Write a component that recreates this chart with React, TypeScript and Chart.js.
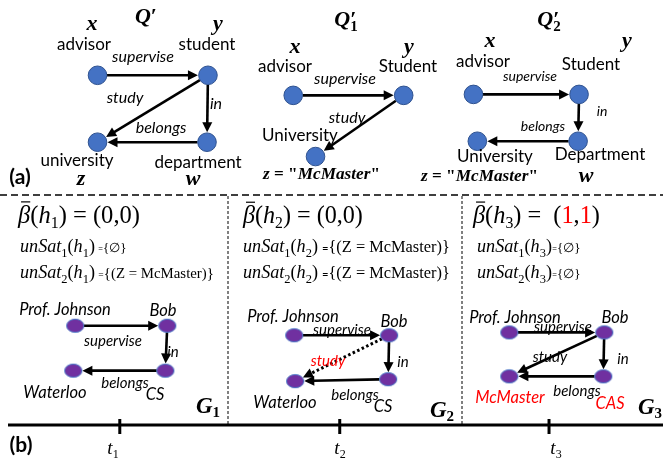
import { useEffect, useRef } from "react";
import { Chart, registerables } from "chart.js";
Chart.register(...registerables);

const W = 663;
const H = 466;
const SANS = "Lato, 'Open Sans', sans-serif";
const SERIF = "'Liberation Serif', 'DejaVu Serif', serif";

// ---------- Query patterns (blue nodes) ----------
const qpNames = ["advisor", "student", "university", "department"];
const qpX = [90, 204, 90, 203];
const qpY = [68, 68, 138, 138];
const qpFrom = [0, 1, 1, 3];
const qpTo = [1, 3, 2, 2];
const qpEdges = ["supervise", "in", "study", "belongs"];

const q1Names = ["advisor", "Student", "University"];
const q1X = [292, 406, 315];
const q1Y = [89, 89, 153];
const q1From = [0, 1];
const q1To = [1, 2];
const q1Edges = ["supervise", "study"];

const q2Names = ["advisor", "Student", "Department", "University"];
const q2X = [478, 587, 586, 482];
const q2Y = [88, 88, 137, 137];
const q2From = [0, 1, 2];
const q2To = [1, 2, 3];
const q2Edges = ["supervise", "in", "belongs"];

// ---------- Data graphs (purple nodes) ----------
const g1Names = ["Prof. Johnson", "Bob", "CS", "Waterloo"];
const g1X = [67, 162, 160, 65];
const g1Y = [330, 330, 377, 377];
const g1From = [0, 1, 2];
const g1To = [1, 2, 3];
const g1Edges = ["supervise", "in", "belongs"];

const g2Names = ["Prof. Johnson", "Bob", "CS", "Waterloo"];
const g2X = [293, 391, 390, 294];
const g2Y = [340, 340, 386, 388];
const g2From = [0, 1, 2, 1];
const g2To = [1, 2, 3, 3];
const g2Edges = ["supervise", "in", "belongs", "study"];
const g2Missing = [false, false, false, true];

const g3Names = ["Prof. Johnson", "Bob", "CAS", "McMaster"];
const g3X = [515, 613, 612, 515];
const g3Y = [337, 337, 383, 383];
const g3From = [0, 1, 2, 1];
const g3To = [1, 2, 3, 3];
const g3Edges = ["supervise", "in", "belongs", "study"];
const g3NewNodes = [false, false, true, true];

// ---------- Timeline ----------
const timeTicks = ["1", "2", "3"];
const timeTickX = [113, 340, 556];
const betaValues = [
  ["0", "0"],
  ["0", "0"],
  ["1", "1"],
];
const unSat1Text = ["{∅}", "{(Z = McMaster)}", "{∅}"];
const unSat2Text = ["{(Z = McMaster)}", "{(Z = McMaster)}", "{∅}"];

// ---------- Label layout (pixel positions of text) ----------
const qpNameAt = [[84, 45], [207, 45], [77, 161], [198, 163]];
const qpEdgeAt = [[143, 57], [216, 104], [125, 98], [161, 128]];
const q1NameAt = [[285, 67], [408, 67], [300, 136]];
const q1EdgeAt = [[345, 79], [347, 118]];
const q2NameAt = [[483, 62], [591, 65], [600, 155], [495, 157]];
const q2EdgeAt = [[530, 76], [602, 111], [543, 126]];
const g1NameAt = [[65, 310], [163, 311], [155, 395], [55, 393]];
const g1EdgeAt = [[113, 341], [173, 352], [125, 383]];
const g2NameAt = [[293, 317], [394, 322], [383, 407], [285, 403]];
const g2EdgeAt = [[342, 330], [403, 362], [355, 395], [328, 361]];
const g3NameAt = [[515, 318], [615, 318], [610, 404], [510, 398]];
const g3EdgeAt = [[563, 327], [623, 359], [577, 391], [550, 357]];

type Graph = {
  names: string[];
  xs: number[];
  ys: number[];
  from: number[];
  to: number[];
  edges: string[];
  nameAt: number[][];
  edgeAt: number[][];
  kind: "q" | "g";
  nameSize: number;
  edgeSize: number;
  dotted?: boolean[];
  redNode?: boolean[];
};

const graphs: Graph[] = [
  { names: qpNames, xs: qpX, ys: qpY, from: qpFrom, to: qpTo, edges: qpEdges, nameAt: qpNameAt, edgeAt: qpEdgeAt, kind: "q", nameSize: 17, edgeSize: 16 },
  { names: q1Names, xs: q1X, ys: q1Y, from: q1From, to: q1To, edges: q1Edges, nameAt: q1NameAt, edgeAt: q1EdgeAt, kind: "q", nameSize: 17, edgeSize: 16 },
  { names: q2Names, xs: q2X, ys: q2Y, from: q2From, to: q2To, edges: q2Edges, nameAt: q2NameAt, edgeAt: q2EdgeAt, kind: "q", nameSize: 17, edgeSize: 14 },
  { names: g1Names, xs: g1X, ys: g1Y, from: g1From, to: g1To, edges: g1Edges, nameAt: g1NameAt, edgeAt: g1EdgeAt, kind: "g", nameSize: 16.5, edgeSize: 15 },
  { names: g2Names, xs: g2X, ys: g2Y, from: g2From, to: g2To, edges: g2Edges, nameAt: g2NameAt, edgeAt: g2EdgeAt, kind: "g", nameSize: 16.5, edgeSize: 15, dotted: g2Missing },
  { names: g3Names, xs: g3X, ys: g3Y, from: g3From, to: g3To, edges: g3Edges, nameAt: g3NameAt, edgeAt: g3EdgeAt, kind: "g", nameSize: 16.5, edgeSize: 15, redNode: g3NewNodes },
];

// ---------- rich text ----------
type Run = { t: string; s: number; st?: string; fam?: string; c?: string; dy?: number; adv?: boolean; bar?: boolean };

function fontOf(r: Run, k: number) {
  return `${r.st || "normal"} ${r.s * k}px ${r.fam || SERIF}`;
}

function drawRuns(ctx: CanvasRenderingContext2D, runs: Run[], x: number, y: number, align: "left" | "center", targetW?: number) {
  ctx.textBaseline = "alphabetic";
  ctx.textAlign = "left";
  const measure = (k: number) =>
    runs.reduce((w, r) => {
      ctx.font = fontOf(r, k);
      return w + (r.adv === false ? 0 : ctx.measureText(r.t).width);
    }, 0);
  let k = 1;
  let w = measure(1);
  if (targetW) {
    k = targetW / w;
    w = targetW;
  }
  let cx = align === "center" ? x - w / 2 : x;
  for (const r of runs) {
    ctx.font = fontOf(r, k);
    ctx.fillStyle = r.c || "#000";
    const rw = ctx.measureText(r.t).width;
    ctx.fillText(r.t, cx, y + (r.dy || 0) * k);
    if (r.bar) {
      ctx.strokeStyle = "#000";
      ctx.lineWidth = 1.2;
      ctx.beginPath();
      ctx.moveTo(cx + rw * 0.25, y - r.s * k * 0.86);
      ctx.lineTo(cx + rw * 1.0, y - r.s * k * 0.86);
      ctx.stroke();
    }
    if (r.adv !== false) cx += rw;
  }
  return cx;
}

function label(ctx: CanvasRenderingContext2D, t: string, x: number, y: number, size: number, style: string, color = "#000") {
  ctx.font = `${style} ${size}px ${SANS}`;
  ctx.fillStyle = color;
  ctx.textAlign = "center";
  ctx.textBaseline = "middle";
  ctx.fillText(t, x, y);
}

function arrow(ctx: CanvasRenderingContext2D, x1: number, y1: number, x2: number, y2: number, r1: number[], r2: number[], dotted: boolean) {
  const dx = x2 - x1;
  const dy = y2 - y1;
  const L = Math.hypot(dx, dy);
  const ux = dx / L;
  const uy = dy / L;
  const rr = (r: number[]) => 1 / Math.sqrt((ux / r[0]) ** 2 + (uy / r[1]) ** 2);
  const head = 10;
  const sx = x1 + ux * rr(r1);
  const sy = y1 + uy * rr(r1);
  const ex = x2 - ux * (rr(r2) + 0.5);
  const ey = y2 - uy * (rr(r2) + 0.5);
  const bx = ex - ux * head;
  const by = ey - uy * head;
  ctx.strokeStyle = "#000";
  ctx.fillStyle = "#000";
  ctx.lineWidth = dotted ? 3 : 2.6;
  ctx.setLineDash(dotted ? [2.5, 2.5] : []);
  ctx.beginPath();
  ctx.moveTo(sx, sy);
  ctx.lineTo(bx + ux, by + uy);
  ctx.stroke();
  ctx.setLineDash([]);
  ctx.beginPath();
  ctx.moveTo(ex, ey);
  ctx.lineTo(bx - uy * 5, by + ux * 5);
  ctx.lineTo(bx + uy * 5, by - ux * 5);
  ctx.closePath();
  ctx.fill();
}

function makeEllipse() {
  const c = document.createElement("canvas");
  c.width = 20;
  c.height = 16;
  const g = c.getContext("2d")!;
  g.beginPath();
  g.ellipse(10, 8, 8.6, 6.6, 0, 0, Math.PI * 2);
  g.fillStyle = "#7030A0";
  g.fill();
  g.strokeStyle = "#4472C4";
  g.lineWidth = 1;
  g.stroke();
  return c;
}

const diagramPlugin = {
  id: "diagram",
  beforeDatasetsDraw(chart: any) {
    const ctx: CanvasRenderingContext2D = chart.ctx;
    const sx = chart.scales.x;
    const sy = chart.scales.y;
    const px = (v: number) => sx.getPixelForValue(v);
    const py = (v: number) => sy.getPixelForValue(v);
    ctx.save();
    // separators
    ctx.strokeStyle = "#000";
    ctx.lineWidth = 1.5;
    ctx.setLineDash([7, 4]);
    ctx.beginPath();
    ctx.moveTo(0, 195);
    ctx.lineTo(W, 195);
    ctx.stroke();
    ctx.lineWidth = 1;
    ctx.setLineDash([3, 2]);
    for (const vx of [228, 462]) {
      ctx.beginPath();
      ctx.moveTo(vx, 196);
      ctx.lineTo(vx, 424);
      ctx.stroke();
    }
    ctx.setLineDash([]);
    // timeline
    ctx.lineWidth = 3;
    ctx.beginPath();
    ctx.moveTo(8, 425);
    ctx.lineTo(W, 425);
    ctx.stroke();
    timeTickX.forEach((tx) => {
      ctx.beginPath();
      ctx.moveTo(px(tx), 419);
      ctx.lineTo(px(tx), 434);
      ctx.stroke();
    });
    // edges
    for (const g of graphs) {
      const r = g.kind === "q" ? [9.5, 9.5] : [8.6, 6.6];
      g.from.forEach((f, i) => {
        const t = g.to[i];
        arrow(ctx, px(g.xs[f]), py(g.ys[f]), px(g.xs[t]), py(g.ys[t]), r, r, !!(g.dotted && g.dotted[i]));
      });
    }
    ctx.restore();
  },
  afterDatasetsDraw(chart: any) {
    const ctx: CanvasRenderingContext2D = chart.ctx;
    ctx.save();
    // node & edge labels
    graphs.forEach((g) => {
      g.names.forEach((n, i) => {
        const [x, y] = g.nameAt[i];
        const red = g.redNode && g.redNode[i];
        label(ctx, n, x, y, g.nameSize, g.kind === "g" ? "italic" : "normal", red ? "#FF0000" : "#000");
      });
      g.edges.forEach((e, i) => {
        const [x, y] = g.edgeAt[i];
        const red = g.dotted && g.dotted[i];
        label(ctx, e, x, y, g.edgeSize, "italic", red ? "#FF0000" : "#000");
      });
    });
    // panel tags
    label(ctx, "(a)", 20, 177, 21, "bold");
    label(ctx, "(b)", 21, 445, 21, "bold");

    const BI = "bold italic";
    // Query titles
    drawRuns(ctx, [{ t: "Q", s: 22, st: BI }, { t: "′", s: 22, st: "bold" }], 146, 23, "center");
    drawRuns(ctx, [{ t: "Q", s: 22, st: BI }, { t: "′", s: 22, st: "bold", adv: false }, { t: "1", s: 15, st: "bold", dy: 5 }], 346, 26, "center");
    drawRuns(ctx, [{ t: "Q", s: 22, st: BI }, { t: "′", s: 22, st: "bold", adv: false }, { t: "2", s: 15, st: "bold", dy: 5 }], 549, 26, "center");
    // variables
    const v = (t: string, x: number, y: number) => drawRuns(ctx, [{ t, s: 22, st: BI }], x, y, "center");
    v("x", 92, 30);
    v("y", 218, 30);
    v("z", 81, 185);
    v("w", 193, 185);
    v("x", 295, 53);
    v("y", 409, 53);
    v("x", 490, 47);
    v("y", 627, 47);
    v("w", 586, 182);
    const zMc: Run[] = [
      { t: "z", s: 16, st: BI },
      { t: " = \"", s: 16, st: "bold" },
      { t: "McMaster", s: 16, st: BI },
      { t: "\"", s: 16, st: "bold" },
    ];
    drawRuns(ctx, zMc, 263, 179, "left", 117);
    drawRuns(ctx, zMc, 421, 181, "left", 117);

    // beta lines
    const betaLeft = [18, 243, 473];
    const betaW = [122, 120, 127];
    betaValues.forEach((bv, i) => {
      const red = i === 2;
      const runs: Run[] = [
        { t: "β", s: 20, st: "italic", bar: true },
        { t: "(", s: 20 },
        { t: "h", s: 20, st: "italic" },
        { t: String(i + 1), s: 13, dy: 4 },
        { t: red ? ") =  (" : ") = (", s: 20 },
        { t: bv[0], s: 20, c: red ? "#FF0000" : "#000" },
        { t: ",", s: 20 },
        { t: bv[1], s: 20, c: red ? "#FF0000" : "#000" },
        { t: ")", s: 20 },
      ];
      drawRuns(ctx, runs, betaLeft[i], 223, "left", betaW[i]);
    });
    // unSat lines
    const unSatPrefix = (n: number, h: number): Run[] => [
      { t: "unSat", s: 16, st: "italic" },
      { t: String(n), s: 11, dy: 4 },
      { t: "(", s: 16 },
      { t: "h", s: 16, st: "italic" },
      { t: String(h), s: 11, dy: 4 },
      { t: ")", s: 16 },
    ];
    const unSatLine = (n: number, h: number, rest: string, x: number, y: number, gap: number, restW: number) => {
      const end = drawRuns(ctx, unSatPrefix(n, h), x, y, "left", 75);
      drawRuns(ctx, [{ t: "=", s: 11, fam: SANS }, { t: rest, s: 16 }], end + gap, y, "left", restW);
    };
    const uLeft = [20, 243, 477];
    const uGap = [3, 4, 0];
    const u1W = [29, 128, 29];
    const u2W = [116, 128, 29];
    for (let i = 0; i < 3; i++) {
      unSatLine(1, i + 1, unSat1Text[i], uLeft[i], 252, uGap[i], u1W[i]);
      unSatLine(2, i + 1, unSat2Text[i], uLeft[i], 278, uGap[i], u2W[i]);
    }

    // G labels
    const gl = (n: string, x: number, y: number) =>
      drawRuns(ctx, [{ t: "G", s: 23, st: BI }, { t: n, s: 15, st: "bold", dy: 4 }], x, y, "left");
    gl("1", 196, 413);
    gl("2", 430, 417);
    gl("3", 638, 414);

    // time labels
    timeTicks.forEach((t, i) => {
      drawRuns(ctx, [{ t: "t", s: 19, st: "italic" }, { t, s: 12, dy: 4 }], timeTickX[i], 454, "center");
    });
    ctx.restore();
  },
};

export default function App() {
  const ref = useRef<HTMLCanvasElement>(null);
  useEffect(() => {
    const qPts: { x: number; y: number }[] = [];
    const gPts: { x: number; y: number }[] = [];
    graphs.forEach((g) => {
      g.xs.forEach((x, i) => (g.kind === "q" ? qPts : gPts).push({ x, y: g.ys[i] }));
    });
    const chart = new Chart(ref.current!, {
      type: "scatter",
      data: {
        datasets: [
          { label: "query nodes", data: qPts, pointRadius: 9.3, backgroundColor: "#4472C4", borderColor: "#2F528F", borderWidth: 1 },
          { label: "graph nodes", data: gPts, pointStyle: makeEllipse() as any, pointRadius: 8, backgroundColor: "#7030A0" },
        ],
      },
      options: {
        animation: false,
        responsive: false,
        events: [],
        layout: { padding: 0 },
        plugins: { legend: { display: false }, tooltip: { enabled: false } },
        scales: {
          x: { type: "linear", min: 0, max: W, display: false },
          y: { type: "linear", min: 0, max: H, reverse: true, display: false },
        },
      },
      plugins: [diagramPlugin],
    });
    return () => chart.destroy();
  }, []);
  return (
    <div style={{ position: "fixed", left: 0, top: 0, width: W, height: H, background: "#fff" }}>
      <canvas ref={ref} width={W} height={H} style={{ width: W, height: H, display: "block" }} />
    </div>
  );
}
